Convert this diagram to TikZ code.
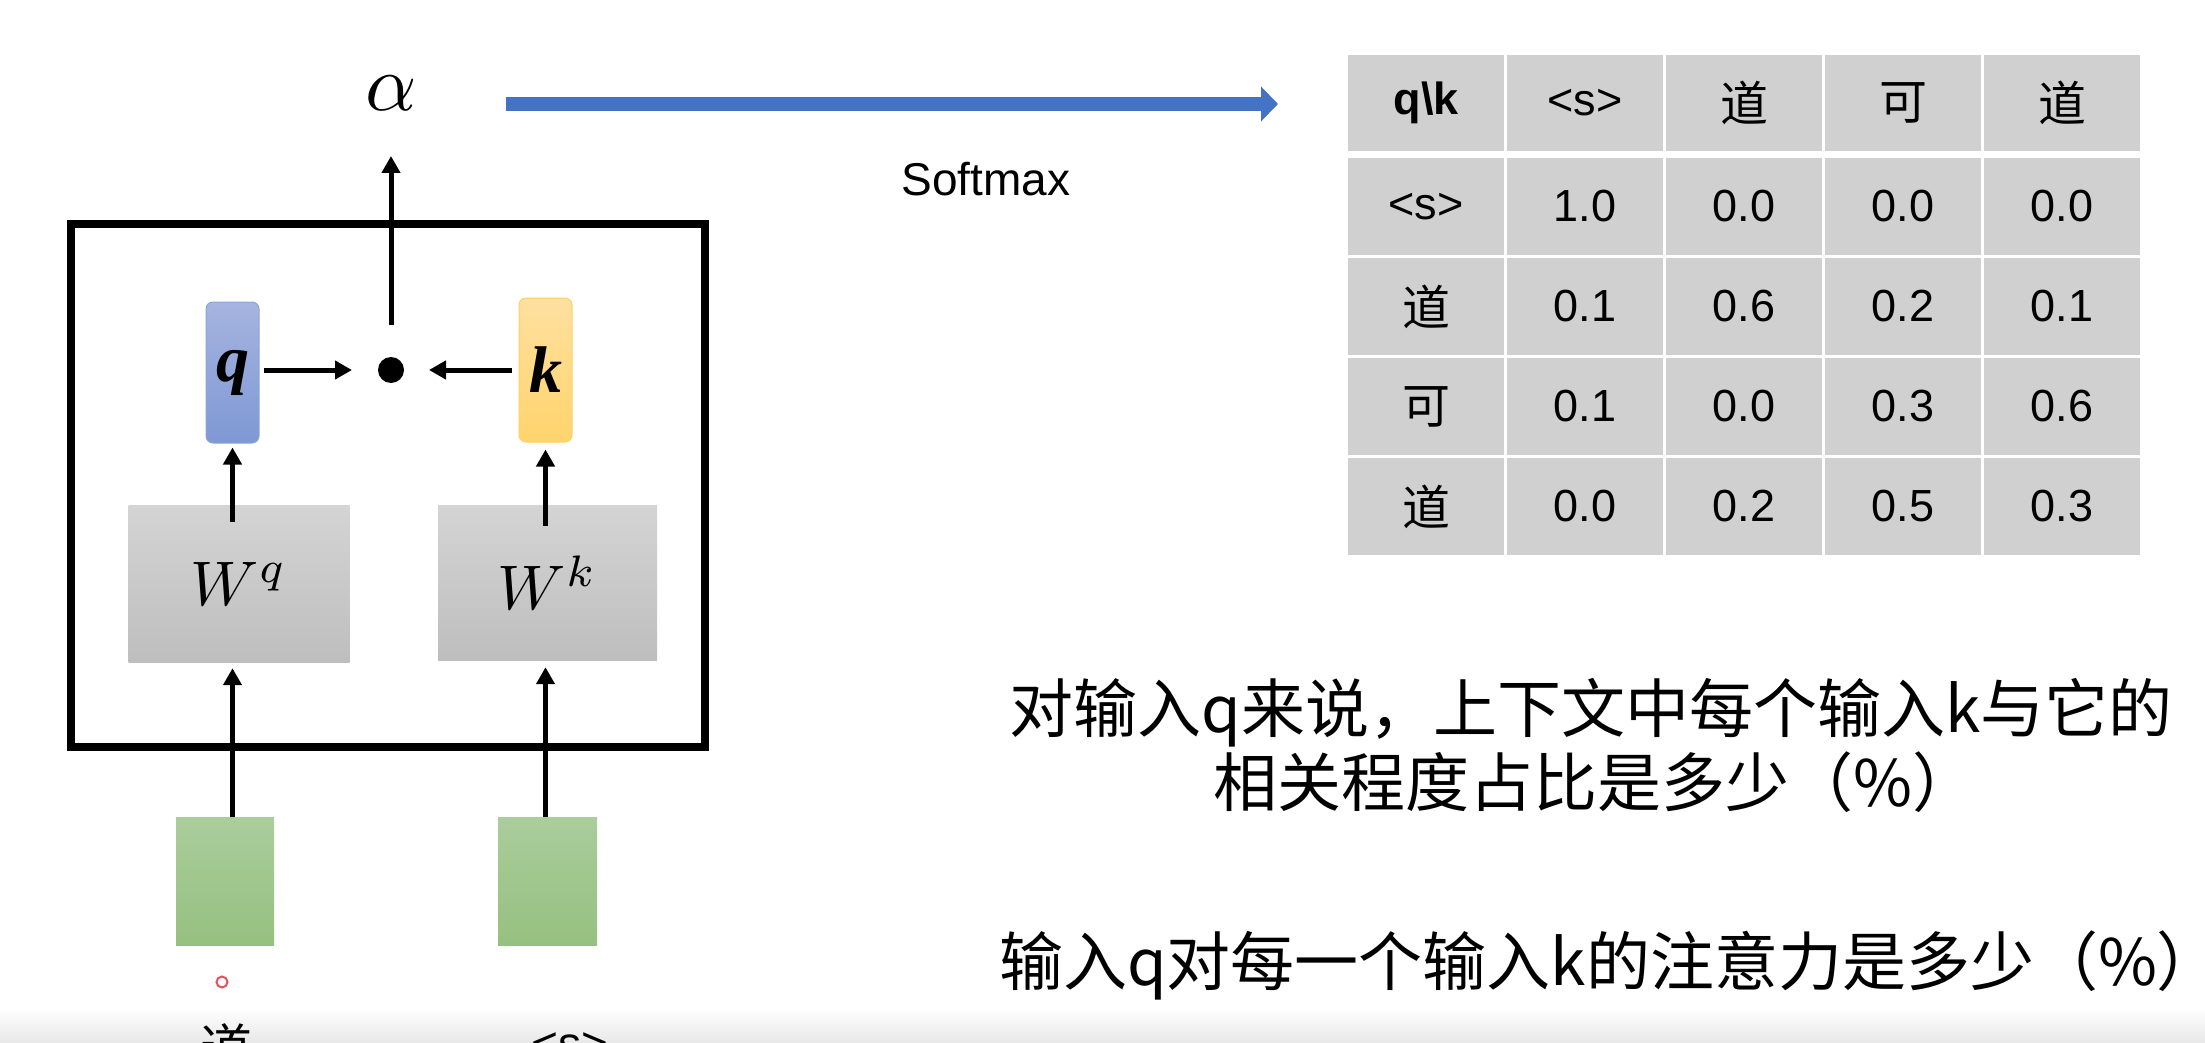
\documentclass[tikz,border=0pt]{standalone}
\usepackage{graphicx}
\usepackage{fontspec}
\setmainfont{Liberation Sans}
\newfontfamily\cjk{Noto Sans CJK SC}
\newfontfamily\tnr{Liberation Serif}
\usetikzlibrary{arrows.meta,calc}

\definecolor{flowblue}{HTML}{4472C4}
\definecolor{qtop}{HTML}{A6B4E0}
\definecolor{qbot}{HTML}{7E98D4}
\definecolor{qedge}{HTML}{8CA4DC}
\definecolor{ktop}{HTML}{FFE0A0}
\definecolor{kbot}{HTML}{FFD46C}
\definecolor{kedge}{HTML}{FFD066}
\definecolor{wtop}{HTML}{D4D4D4}
\definecolor{wbot}{HTML}{BEBEBE}
\definecolor{gtop}{HTML}{AACD9C}
\definecolor{gbot}{HTML}{96C080}
\definecolor{cellgray}{HTML}{D0D0D0}
\definecolor{markred}{HTML}{E8505B}

\newcommand\tabfont{\fontsize{45}{54}\selectfont}
\newcommand\tcjk{\cjk\fontsize{48}{56}\selectfont}
\newcommand\notefont{\cjk\fontsize{64}{76}\selectfont}

\begin{document}
\begin{tikzpicture}[x=1pt,y=-1pt,
  arr/.style={line width=5pt,-{Triangle[length=17pt,width=18pt]}},
  vec/.style={rounded corners=7pt,minimum width=53pt,inner sep=0pt,line width=1pt,
    font=\fontsize{66}{70}\selectfont\tnr\bfseries\itshape},
  qvec/.style={vec,minimum height=141pt,draw=qedge,top color=qtop,bottom color=qbot},
  kvec/.style={vec,minimum height=144pt,draw=kedge,top color=ktop,bottom color=kbot},
  wbox/.style={minimum width=221pt,minimum height=157pt,inner sep=0pt,
    top color=wtop,bottom color=wbot},
  inbox/.style={minimum width=98pt,minimum height=128pt,inner sep=0pt,
    top color=gtop,bottom color=gbot},
  cell/.style={fill=cellgray,minimum width=156pt,minimum height=97pt,inner sep=0pt,font=\tabfont},
  hcell/.style={cell,minimum height=96pt},
  note/.style={anchor=base,inner sep=0pt,font=\notefont},
  band/.style={minimum width=2205pt,minimum height=36pt,inner sep=0pt,
    top color=white,bottom color=black!9}
]
\useasboundingbox (0,0) rectangle (2205,1043);
\clip (0,0) rectangle (2205,1043);

% soft grey band along the lower edge
\node[band] (band) at (1102.5,1025) {};

% attention score block
\node[draw,line width=8pt,minimum width=634pt,minimum height=523pt,inner sep=0pt] (block) at (388,485.5) {};

\node (alpha) at (391,93) {\scalebox{8}{$\alpha$}};
\node[circle,fill=black,minimum size=26pt,inner sep=0pt] (dot) at (391,370) {};
\node[qvec] (q) at (232.5,372.5) {q};
\node[kvec] (k) at (545.5,370) {k};
\node[wbox] (Wq) at (239,583.5) {\scalebox{6.3}{$W^{q}$}};
\node[wbox,minimum width=219pt,minimum height=155pt] (Wk) at (547.5,582.5) {\scalebox{6.3}{$W^{k}$}};
\node[inbox] (g1) at (225,881.5) {};
\node[inbox,minimum width=99pt] (g2) at (547.5,881) {};

% connectors
\draw[arr,shorten >=6pt] (q.south |- g1.north) -- (q.south |- Wq.south);
\draw[arr,shorten >=7pt] (k.south |- g2.north) -- (k.south |- Wk.south);
\draw[arr,shorten >=4pt] ($(q.south |- Wq.north)+(0,17)$) -- (q.south);
\draw[arr,shorten >=7pt] ($(k.south |- Wk.north)+(0,21)$) -- (k.south);
\draw[arr,shorten <=4pt,shorten >=39pt] (q.east |- dot.center) -- (dot.center);
\draw[arr,shorten <=7pt,shorten >=38pt] (k.west |- dot.center) -- (dot.center);
\draw[arr,shorten <=45pt,shorten >=63pt] (dot.center) -- (alpha.center);

% softmax arrow
\coordinate (sm0) at (506,104);
\coordinate (sm1) at (1278,104);
\draw[flowblue,line width=14pt,-{Triangle[length=17pt,width=34pt]}] (sm0) -- (sm1);
\node[font=\fontsize{46}{54}\selectfont] (softmax) at (986,179) {Softmax};

% input tokens
\node[circle,draw=markred,line width=2pt,minimum size=11pt,inner sep=0pt] (mark) at (222,982) {};
\node[anchor=north,inner sep=0pt,font=\cjk\fontsize{52}{60}\selectfont] (tok1) at (226,1023) {道};
\node[anchor=north,inner sep=0pt,font=\fontsize{46}{54}\selectfont] (tok2) at (570,1032) {<s>};

% attention weight table
\foreach \lab [count=\c from 0] in {{\bfseries q\textbackslash k},{<s>},{\tcjk 道},{\tcjk 可},{\tcjk 道}}
  \node[hcell] (h\c) at ({1426+159*\c},103) {\lab};
\foreach \lab/\va/\vb/\vc/\vd [count=\r] in
  {{<s>}/1.0/0.0/0.0/0.0, {\tcjk 道}/0.1/0.6/0.2/0.1, {\tcjk 可}/0.1/0.0/0.3/0.6, {\tcjk 道}/0.0/0.2/0.5/0.3}{
  \node[cell] (r\r-0) at (1426,{106.5+100*\r}) {\lab};
  \node[cell] (r\r-1) at (1585,{106.5+100*\r}) {\va};
  \node[cell] (r\r-2) at (1744,{106.5+100*\r}) {\vb};
  \node[cell] (r\r-3) at (1903,{106.5+100*\r}) {\vc};
  \node[cell] (r\r-4) at (2062,{106.5+100*\r}) {\vd};
}

% explanation
\node[note] (n1) at (1591,732) {对输入q来说，上下文中每个输入k与它的};
\node[note] (n2) at (1595,806) {相关程度占比是多少（\%）};
\node[note] (n3) at (1610,985) {输入q对每一个输入k的注意力是多少（\%）};
\end{tikzpicture}
\end{document}
